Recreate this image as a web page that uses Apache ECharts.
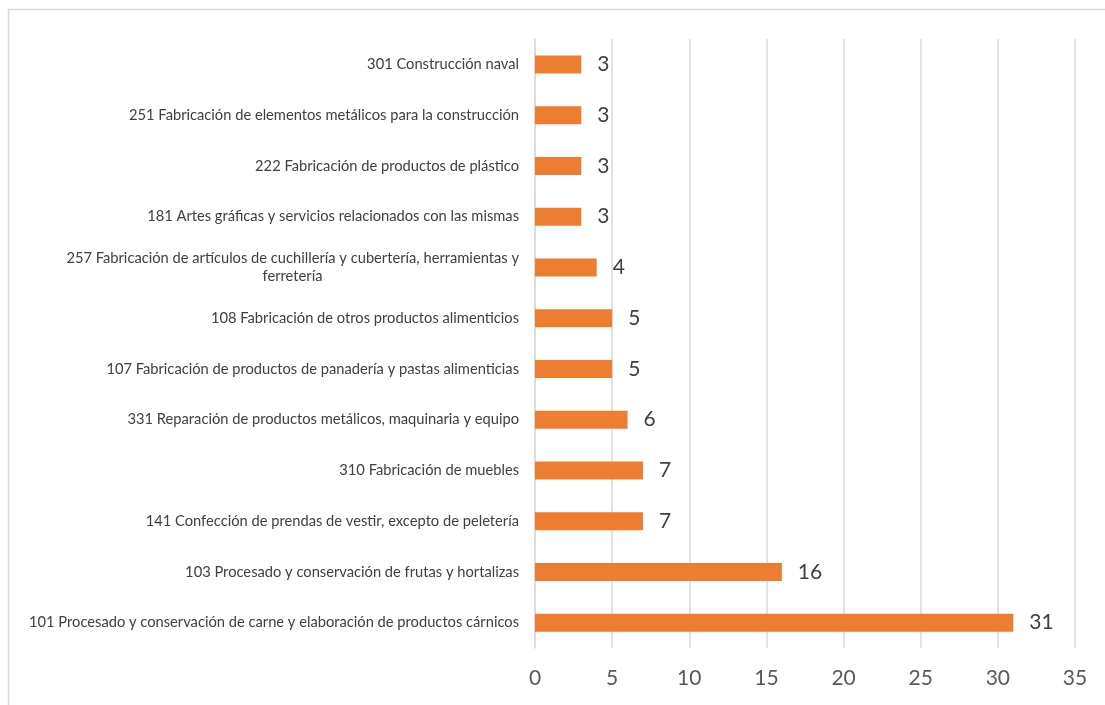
<!DOCTYPE html>
<html>
<head>
<meta charset="utf-8">
<script src="https://cdn.jsdelivr.net/npm/echarts@6/dist/echarts.min.js"></script>
<style>
html,body{margin:0;padding:0;background:#fff;}
#c{width:1105px;height:705px;}
</style>
</head>
<body>
<div id="c"></div>
<script>
var categories = [
  '101 Procesado y conservación de carne y elaboración de productos cárnicos',
  '103 Procesado y conservación de frutas y hortalizas',
  '141 Confección de prendas de vestir, excepto de peletería',
  '310 Fabricación de muebles',
  '331 Reparación de productos metálicos, maquinaria y equipo',
  '107 Fabricación de productos de panadería y pastas alimenticias',
  '108 Fabricación de otros productos alimenticios',
  '257 Fabricación de artículos de cuchillería y cubertería, herramientas y\nferretería',
  '181 Artes gráficas y servicios relacionados con las mismas',
  '222 Fabricación de productos de plástico',
  '251 Fabricación de elementos metálicos para la construcción',
  '301 Construcción naval'
];
var values = [31, 16, 7, 7, 6, 5, 5, 4, 3, 3, 3, 3];
var xTicks = [0, 5, 10, 15, 20, 25, 30, 35];

var FONT = 'Lato';
var CAT_SIZE = 14.7;

function measure(text) {
  var cv = document.createElement('canvas');
  var ctx = cv.getContext('2d');
  ctx.font = CAT_SIZE + 'px ' + FONT;
  return ctx.measureText(text).width;
}
var longest = 0;
categories.forEach(function (c) {
  var p = c.split('\n');
  if (p.length > 1) longest = Math.max(longest, measure(p[0]));
});

var chart = echarts.init(document.getElementById('c'));
chart.setOption({
  animation: false,
  backgroundColor: '#fff',
  graphic: [{
    type: 'rect',
    shape: {x: 8.5, y: 9.5, width: 1200, height: 800},
    style: {fill: 'none', stroke: '#D9D9D9', lineWidth: 1.5},
    silent: true
  }],
  grid: {left: 535, right: 30, top: 39, bottom: 57, containLabel: false},
  xAxis: {
    type: 'value',
    min: xTicks[0],
    max: xTicks[xTicks.length - 1],
    interval: 5,
    axisLine: {show: false},
    axisTick: {show: false},
    splitLine: {show: true, lineStyle: {color: '#D9D9D9', width: 1.5}},
    axisLabel: {
      color: '#595959', fontSize: 21, margin: 20,
      fontFamily: FONT
    }
  },
  yAxis: {
    type: 'category',
    data: categories,
    axisLine: {show: true, lineStyle: {color: '#D9D9D9', width: 1.5}},
    axisTick: {show: false},
    axisLabel: {
      margin: 16,
      color: '#404040',
      fontSize: CAT_SIZE,
      fontFamily: FONT,
      formatter: function (v) {
        var parts = v.split('\n');
        if (parts.length > 1) {
          return '{a|' + parts[0] + '}\n{b|' + parts[1] + '}';
        }
        return v;
      },
      rich: {
        a: {color: '#404040', fontSize: CAT_SIZE, fontFamily: FONT, lineHeight: 18},
        b: {color: '#404040', fontSize: CAT_SIZE, fontFamily: FONT, lineHeight: 18, align: 'center', width: Math.ceil(longest)}
      }
    }
  },
  series: [{
    type: 'bar',
    data: values,
    barWidth: 18,
    itemStyle: {color: '#ED7D31'},
    label: {
      show: true,
      position: 'right',
      distance: 16,
      color: '#404040',
      fontSize: 21,
      fontFamily: FONT
    }
  }]
});
</script>
</body>
</html>
